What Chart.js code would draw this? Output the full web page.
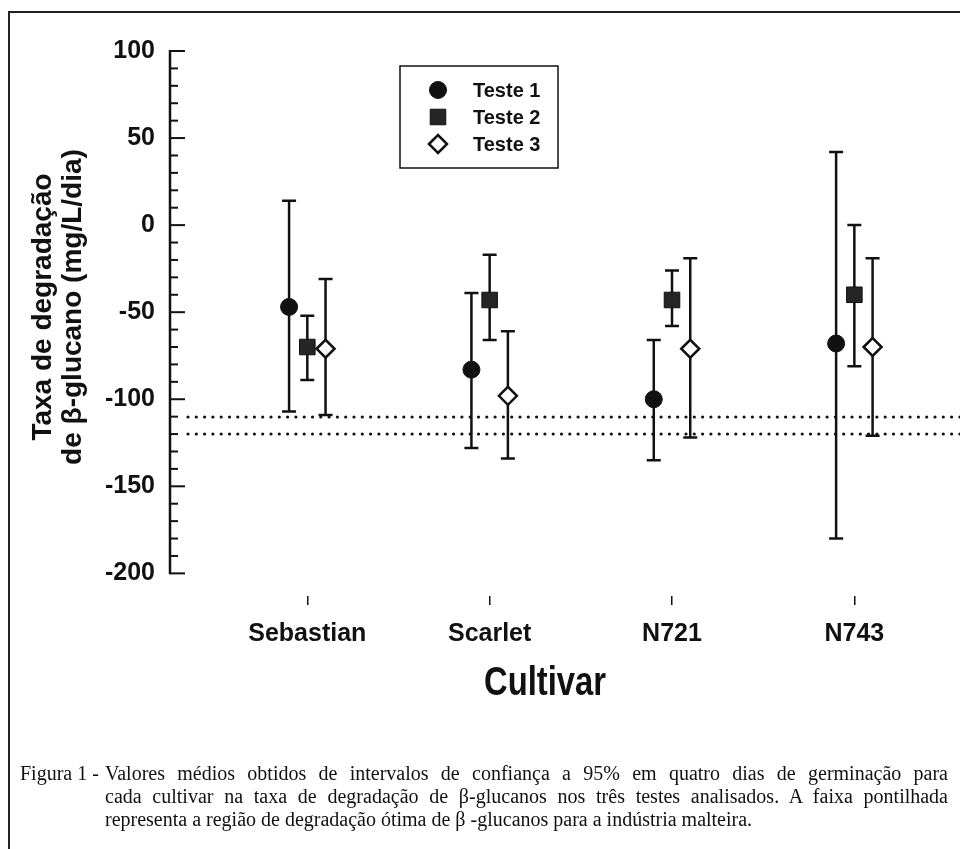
<!DOCTYPE html>
<html>
<head>
<meta charset="utf-8">
<script src="https://cdn.jsdelivr.net/npm/chart.js@4.4.0/dist/chart.umd.min.js"></script>
<style>
  html, body { margin: 0; padding: 0; background: #fff; }
  #wrap { position: relative; width: 960px; height: 849px; overflow: hidden; }
  #frame { position: absolute; left: 8px; top: 11px; width: 1000px; height: 900px;
           border-left: 2px solid #222; border-top: 2px solid #222; }
  canvas { position: absolute; left: 0; top: 0; }
  #caption { position: absolute; left: 20px; top: 762px; width: 928px;
             font-family: "Liberation Serif", "Times New Roman", serif;
             font-size: 20px; line-height: 23px; color: #111; }
  #caption .lead { position: absolute; left: 0; top: 0; }
  #caption .line { margin-left: 85px; text-align: justify; text-align-last: justify; }
  #caption .last { margin-left: 85px; }
</style>
</head>
<body>
<div id="wrap">
  <div id="frame"></div>
  <canvas id="chart" width="960" height="849"></canvas>
  <div id="caption">
    <span class="lead">Figura 1 -</span>
    <div class="line">Valores médios obtidos de intervalos de confiança a 95% em quatro dias de germinação para</div>
    <div class="line">cada cultivar na taxa de degradação de β-glucanos nos três testes analisados. A faixa pontilhada</div>
    <div class="last">representa a região de degradação ótima de β -glucanos para a indústria malteira.</div>
  </div>
</div>
<script>
// categories and tick labels
const cultivars = ['Sebastian', 'Scarlet', 'N721', 'N743'];
const yTicks = [100, 50, 0, -50, -100, -150, -200];
const testLabels = ['Teste 1', 'Teste 2', 'Teste 3'];
const yTitleLines = ['Taxa de degradação', 'de β-glucano (mg/L/dia)'];
const xTitle = 'Cultivar';

// mean and 95% interval per cultivar
const teste1Mean = [-47, -83, -100, -68];
const teste1Low  = [-107, -128, -135, -180];
const teste1High = [14, -39, -66, 42];

const teste2Mean = [-70, -43, -43, -40];
const teste2Low  = [-89, -66, -58, -81];
const teste2High = [-52, -17, -26, 0];

const teste3Mean = [-71, -98, -71, -70];
const teste3Low  = [-109, -134, -122, -121];
const teste3High = [-31, -61, -19, -19];

// optimal degradation band (dotted lines)
const bandLimits = [-110, -120];

// side-by-side offset of each test around the cultivar position
const testOffsets = [-0.1, 0, 0.1];

const INK = '#111';
const FONT = "'Liberation Sans', Arial, sans-serif";

function buildPoints(mean, low, high, k) {
  return mean.map((m, i) => ({ x: i + 1 + testOffsets[k], y: m, low: low[i], high: high[i] }));
}

const markerStyles = [
  { pointStyle: 'circle', radius: 8.5, bg: INK, border: INK, bw: 1 },
  { pointStyle: 'rect', radius: 11, bg: '#252525', border: INK, bw: 1 },
  { pointStyle: 'rectRot', radius: 9, bg: '#fff', border: INK, bw: 2.5 }
];

const series = [
  buildPoints(teste1Mean, teste1Low, teste1High, 0),
  buildPoints(teste2Mean, teste2Low, teste2High, 1),
  buildPoints(teste3Mean, teste3Low, teste3High, 2)
];

const datasets = series.map((pts, k) => ({
  label: testLabels[k],
  data: pts,
  pointStyle: markerStyles[k].pointStyle,
  pointRadius: markerStyles[k].radius,
  pointBackgroundColor: markerStyles[k].bg,
  pointBorderColor: markerStyles[k].border,
  pointBorderWidth: markerStyles[k].bw,
  showLine: false
}));

// error bars + dotted band, drawn under the markers
const errorBarPlugin = {
  id: 'errorBars',
  beforeDatasetsDraw(chart) {
    const { ctx, chartArea, scales: { x, y } } = chart;
    ctx.save();

    ctx.strokeStyle = INK;
    ctx.lineWidth = 3.2;
    ctx.lineCap = 'round';
    ctx.setLineDash([0, 8.3]);
    bandLimits.forEach(v => {
      const py = Math.round(y.getPixelForValue(v));
      ctx.beginPath();
      ctx.moveTo(chartArea.left + 18, py);
      ctx.lineTo(chart.width, py);
      ctx.stroke();
    });
    ctx.setLineDash([]);
    ctx.lineCap = 'butt';

    ctx.lineWidth = 2.5;
    chart.data.datasets.forEach(ds => {
      ds.data.forEach(pt => {
        const px = x.getPixelForValue(pt.x);
        const pt1 = y.getPixelForValue(pt.high);
        const pt2 = y.getPixelForValue(pt.low);
        ctx.beginPath();
        ctx.moveTo(px, pt1); ctx.lineTo(px, pt2);
        ctx.moveTo(px - 7, pt1); ctx.lineTo(px + 7, pt1);
        ctx.moveTo(px - 7, pt2); ctx.lineTo(px + 7, pt2);
        ctx.stroke();
      });
    });
    ctx.restore();
  }
};

// y axis line with inward ticks, axis titles and the boxed legend
const axisLegendPlugin = {
  id: 'axisLegend',
  afterDraw(chart) {
    const { ctx, chartArea, scales: { y } } = chart;
    const ax = chartArea.left;
    const yTop = y.getPixelForValue(Math.max(...yTicks));
    const yBot = y.getPixelForValue(Math.min(...yTicks));
    ctx.save();
    ctx.strokeStyle = INK;
    ctx.lineWidth = 2.5;
    ctx.beginPath();
    ctx.moveTo(ax, yTop - 1); ctx.lineTo(ax, yBot + 1);
    ctx.stroke();
    ctx.lineWidth = 2;
    for (let v = Math.min(...yTicks); v <= Math.max(...yTicks); v += 10) {
      const py = y.getPixelForValue(v);
      const len = (v % 50 === 0) ? 15 : 8;
      ctx.beginPath();
      ctx.moveTo(ax, py); ctx.lineTo(ax + len, py);
      ctx.stroke();
    }

    // y title, two rotated lines
    ctx.fillStyle = INK;
    ctx.font = 'bold 28px ' + FONT;
    ctx.textAlign = 'center';
    ctx.textBaseline = 'middle';
    yTitleLines.forEach((t, i) => {
      ctx.save();
      ctx.translate(43 + i * 30, 307);
      ctx.rotate(-Math.PI / 2);
      ctx.fillText(t, 0, 0);
      ctx.restore();
    });

    // x title, condensed
    ctx.save();
    ctx.translate(545, 684);
    ctx.scale(0.8, 1);
    ctx.font = 'bold 41px ' + FONT;
    ctx.fillText(xTitle, 0, 0);
    ctx.restore();

    // legend box
    const bx = 400, by = 66, bw = 158, bh = 102;
    ctx.strokeStyle = INK;
    ctx.lineWidth = 1.5;
    ctx.strokeRect(bx, by, bw, bh);
    ctx.font = 'bold 20px ' + FONT;
    ctx.textAlign = 'left';
    chart.data.datasets.forEach((ds, k) => {
      const ly = by + 24 + k * 27;
      const m = markerStyles[k];
      ctx.fillStyle = m.bg;
      ctx.strokeStyle = m.border;
      ctx.lineWidth = m.bw;
      Chart.helpers.drawPoint(ctx, { pointStyle: m.pointStyle, radius: m.radius, rotation: 0, borderWidth: m.bw }, 438, ly);
      ctx.fillStyle = INK;
      ctx.fillText(ds.label, 473, ly + 1);
    });
    ctx.restore();
  }
};

new Chart(document.getElementById('chart'), {
  type: 'scatter',
  data: { datasets },
  options: {
    responsive: false,
    animation: false,
    layout: { padding: { top: 51, right: 40, bottom: 0, left: 0 } },
    plugins: { legend: { display: false }, tooltip: { enabled: false } },
    scales: {
      x: {
        type: 'linear',
        min: 0.247,
        max: 4.36,
        afterFit: s => { s.height = 253; },
        afterBuildTicks: s => { s.ticks = cultivars.map((c, i) => ({ value: i + 1 })); },
        border: { display: false },
        grid: { display: true, drawOnChartArea: false, drawTicks: true, tickLength: 9, color: INK, lineWidth: 1.5 },
        ticks: {
          autoSkip: false, maxRotation: 0, padding: 14, color: INK,
          font: { family: FONT, size: 25, weight: 'bold' },
          callback: v => cultivars[Math.round(v) - 1] || ''
        }
      },
      y: {
        min: -213,
        max: 100,
        afterFit: s => { s.width = 170; },
        afterBuildTicks: s => { s.ticks = yTicks.map(v => ({ value: v })); },
        border: { display: false },
        grid: { display: false, drawTicks: false },
        ticks: { padding: 15, color: INK, font: { family: FONT, size: 25, weight: 'bold' } }
      }
    }
  },
  plugins: [errorBarPlugin, axisLegendPlugin]
});
</script>
</body>
</html>
